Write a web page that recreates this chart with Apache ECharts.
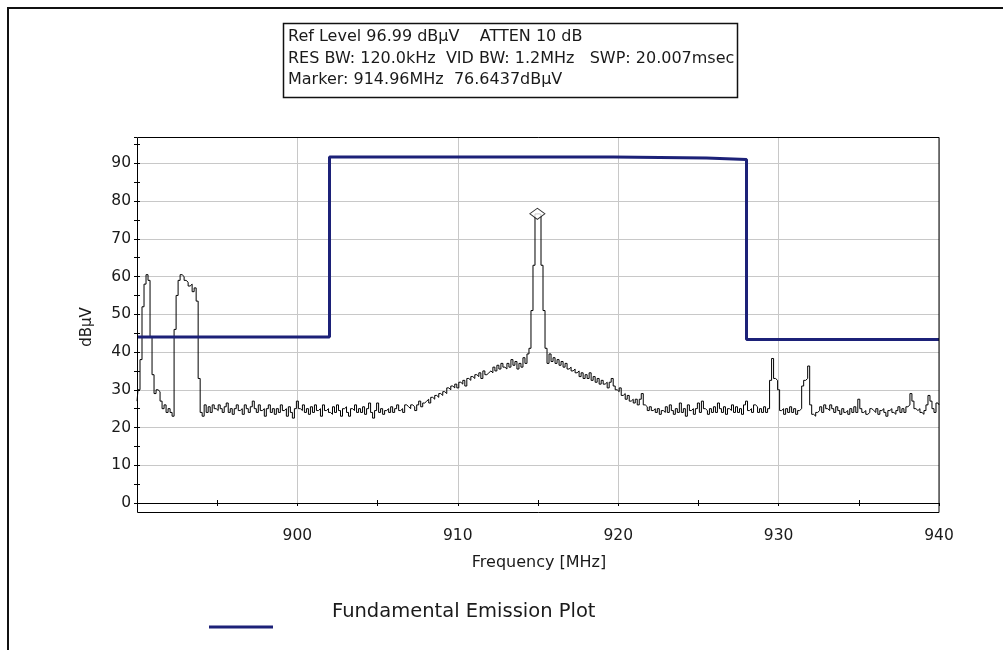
<!DOCTYPE html>
<html>
<head>
<meta charset="utf-8">
<script src="https://cdn.jsdelivr.net/npm/echarts@6/dist/echarts.min.js"></script>
<style>
html,body{margin:0;padding:0;background:#fff;}
#chart{width:1003px;height:650px;}
</style>
</head>
<body>
<div id="chart"></div>
<script>
// ---- Data ----
const START_MHZ = 890;
const STEP_MHZ = 0.125;
const TRACE_DBUV = [
  27, 30, 38, 52, 58, 60.5, 59, 44,
  34, 29, 30, 29.5, 27, 25, 26, 24,
  25, 24, 23, 46, 55, 59, 60.5, 60,
  59, 58.5, 57.5, 58, 56, 57, 53.5, 33,
  24, 23, 26, 24, 25.5, 24, 26, 25,
  24.5, 26, 25, 24, 25.5, 26.5, 24, 25,
  23.5, 25, 26, 24.5, 25, 23.5, 26, 25,
  24, 25.5, 27, 25, 24, 26, 24.5, 25,
  23, 25, 26, 24, 25, 23.5, 25, 24,
  26, 24.5, 25, 23, 25.5, 24, 22.5, 25,
  27, 25, 24.5, 26, 24, 25, 23.5, 25.5,
  24, 26, 24.5, 25, 23, 26, 24.5, 25,
  24, 23.5, 25.5, 24, 26, 24.5, 23, 25,
  25.5, 24, 23, 25, 24.5, 26, 24, 25,
  24, 25.5, 23.5, 25, 26.5, 24, 22.5, 24.5,
  26.5, 24, 25, 23.5, 24.5, 25, 24, 25.5,
  24, 25, 26, 24.5, 25, 24, 26, 25.5,
  25, 26, 25.5, 24.5, 26, 27, 25.5, 26.5,
  27, 27.5, 26.5, 28, 27.5, 28.5, 28, 29,
  28.5, 29.5, 29, 30.5, 30, 31, 30.5, 31.5,
  30.5, 32, 31.5, 32.5, 31, 33, 32.5, 33.5,
  33, 34, 33.5, 34.5, 33, 35, 34, 34.5,
  35, 34.5, 36, 35, 36.5, 35.5, 37, 36,
  35.5, 37, 36, 38, 36.5, 37.5, 35.5, 37,
  36, 38.5, 37, 39.5, 41, 51, 63, 76.6,
  76.64, 76.5, 63, 51, 41, 37, 39.5, 37.5,
  38.5, 37, 38, 36.5, 37.5, 36, 37, 35.5,
  36, 35, 35.5, 34.5, 35, 33.5, 34.5, 33,
  34, 33, 34.5, 32.5, 33.5, 32, 33, 31.5,
  32.5, 31.5, 32, 30.5, 32, 33, 31, 30,
  29.5, 30.5, 28.5, 29, 27.5, 28.5, 27, 27.5,
  26.5, 27.5, 26, 27.5, 29, 26, 25.5, 24.5,
  25.5, 24.5, 25, 24, 25, 23.5, 24.5, 24,
  25.5, 24, 26, 24.5, 23.5, 25, 24, 26.5,
  24, 25, 23, 26, 24.5, 25, 23.5, 25,
  26.5, 24, 27, 25, 24.5, 23.5, 25, 24,
  25.5, 24, 26.5, 25, 24, 25.5, 23.5, 25,
  24.5, 26, 24, 25.5, 24, 25, 23.5, 26,
  27, 24.5, 25, 24, 26, 25.5, 24, 25,
  24, 25.5, 24, 25, 32.5, 38.3, 33, 32.5,
  30, 24.5, 25, 23.5, 25, 24, 25.5, 24,
  25, 23.5, 24.5, 25, 31, 32.5, 33, 36.3,
  26, 23.5, 23, 24, 24.5, 25.5, 24, 26,
  25, 24.5, 26, 25, 24, 25.5, 24.5, 23.5,
  25, 24, 24.5, 23.5, 25, 24, 25.5, 24,
  27.5, 25, 24, 24.5, 23.5, 24, 25, 24.5,
  24, 25, 23.5, 24.5, 25, 24, 23, 24.5,
  25, 24, 23.5, 24.5, 25.5, 24, 25, 24,
  25.5, 26, 29, 27, 25, 24.5, 25, 24,
  23.5, 24.5, 26, 28.5, 27, 25, 24, 26.5,
  26
];
const LIMIT_MHZ  = [890, 902, 902, 919.7, 919.7, 925.5, 925.5, 928, 928, 940];
const LIMIT_DBUV = [44, 44, 91.7, 91.7, 91.4, 91.4, 91.0, 91.0, 43.3, 43.3];
const MARKER_MHZ = 914.96;
const MARKER_DBUV = 76.6437;
const INFO_LINES = [
  'Ref Level 96.99 dB\u00b5V    ATTEN 10 dB',
  'RES BW: 120.0kHz  VID BW: 1.2MHz   SWP: 20.007msec',
  'Marker: 914.96MHz  76.6437dB\u00b5V'
];
const X_MIN = 890, X_MAX = 940, X_LABEL_STEP = 10, X_TICK_STEP = 5;
const Y_MIN = 0, Y_MAX = 96.99, Y_LABEL_STEP = 10, Y_TICK_STEP = 5;
const X_TITLE = 'Frequency [MHz]';
const Y_TITLE = 'dB\u00b5V';
const LEGEND_TEXT = 'Fundamental Emission Plot';

// ---- Build ----
const traceData = TRACE_DBUV.map((v, i) => [START_MHZ + i * STEP_MHZ, v]);
const limitData = LIMIT_MHZ.map((f, i) => [f, LIMIT_DBUV[i]]);

const FONT = '"DejaVu Sans", Verdana, sans-serif';
const TXT = '#1a1a1a';
const NAVY = '#1c2178';

const chart = echarts.init(document.getElementById('chart'), null, {renderer: 'canvas'});

function tickAxis(base, step, inside) {
  return Object.assign({}, base, {
    interval: step,
    axisLine: {show: false},
    axisTick: {show: true, inside: inside, length: 3, lineStyle: {color: '#000', width: 1}},
    axisLabel: {show: false},
    splitLine: {show: false}
  });
}

const xBase = {type: 'value', min: X_MIN, max: X_MAX, position: 'bottom', gridIndex: 0};
const yBase = {type: 'value', min: Y_MIN, max: Y_MAX, position: 'left', gridIndex: 0};

const option = {
  animation: false,
  backgroundColor: '#fff',
  grid: {left: 137, top: 137, width: 802, height: 366, containLabel: false},
  xAxis: [
    Object.assign({}, xBase, {
      interval: X_LABEL_STEP,
      z: 3,
      axisLine: {show: true, onZero: false, lineStyle: {color: '#000', width: 1}},
      axisTick: {show: false},
      axisLabel: {showMinLabel: false, margin: 25, fontFamily: FONT, fontSize: 15.5, color: TXT},
      splitLine: {show: true, lineStyle: {color: '#c8c8c8', width: 1}}
    }),
    tickAxis(xBase, X_TICK_STEP, false),
    tickAxis(xBase, X_TICK_STEP, true)
  ],
  yAxis: [
    Object.assign({}, yBase, {
      interval: Y_LABEL_STEP,
      axisLine: {show: false},
      axisTick: {show: false},
      axisLabel: {showMaxLabel: false, margin: 6, fontFamily: FONT, fontSize: 15.5, color: TXT},
      splitLine: {show: true, lineStyle: {color: '#c8c8c8', width: 1}}
    }),
    tickAxis(yBase, Y_TICK_STEP, false),
    tickAxis(yBase, Y_TICK_STEP, true)
  ],
  series: [
    {
      type: 'line', name: 'Trace', data: traceData, xAxisIndex: 0, yAxisIndex: 0,
      showSymbol: false, symbol: 'none', smooth: false, step: 'middle',
      lineStyle: {color: '#000', width: 1}, z: 3, silent: true
    },
    {
      type: 'line', name: LEGEND_TEXT, data: limitData, xAxisIndex: 0, yAxisIndex: 0,
      showSymbol: false, symbol: 'none',
      lineStyle: {color: NAVY, width: 3}, z: 4, silent: true
    },
    {
      type: 'scatter', name: 'Marker', data: [[MARKER_MHZ, MARKER_DBUV]], xAxisIndex: 0, yAxisIndex: 0,
      symbol: 'diamond', symbolSize: [15, 11],
      itemStyle: {color: '#fff', borderColor: '#000', borderWidth: 1}, z: 5, silent: true
    }
  ],
  graphic: [
    {type: 'rect', z: 100, silent: true, shape: {x: 8, y: 8, width: 1200, height: 1200},
     style: {fill: 'none', stroke: '#111', lineWidth: 2}},
    {type: 'rect', z: 100, silent: true, shape: {x: 137.5, y: 137.5, width: 801.5, height: 375},
     style: {fill: 'none', stroke: '#000', lineWidth: 1}},
    {type: 'rect', z: 100, silent: true, shape: {x: 283.5, y: 23.5, width: 454, height: 74},
     style: {fill: '#fff', stroke: '#111', lineWidth: 1.5}},
    {type: 'text', z: 101, silent: true, x: 288, y: 37,
     style: {text: INFO_LINES[0], font: '16px ' + FONT, fill: TXT, textVerticalAlign: 'middle'}},
    {type: 'text', z: 101, silent: true, x: 288, y: 58.5,
     style: {text: INFO_LINES[1], font: '16px ' + FONT, fill: TXT, textVerticalAlign: 'middle'}},
    {type: 'text', z: 101, silent: true, x: 288, y: 80,
     style: {text: INFO_LINES[2], font: '16px ' + FONT, fill: TXT, textVerticalAlign: 'middle'}},
    {type: 'text', z: 101, silent: true, x: 87, y: 327, rotation: Math.PI / 2,
     style: {text: Y_TITLE, font: '15px ' + FONT, fill: TXT, textAlign: 'center', textVerticalAlign: 'middle'}},
    {type: 'text', z: 101, silent: true, x: 539, y: 563,
     style: {text: X_TITLE, font: '16px ' + FONT, fill: TXT, textAlign: 'center', textVerticalAlign: 'middle'}},
    {type: 'line', z: 101, silent: true, shape: {x1: 209, y1: 627, x2: 273, y2: 627},
     style: {stroke: NAVY, lineWidth: 3}},
    {type: 'text', z: 101, silent: true, x: 332, y: 612,
     style: {text: LEGEND_TEXT, font: '19.5px ' + FONT, fill: TXT, textVerticalAlign: 'middle'}}
  ]
};
chart.setOption(option);
</script>
</body>
</html>
